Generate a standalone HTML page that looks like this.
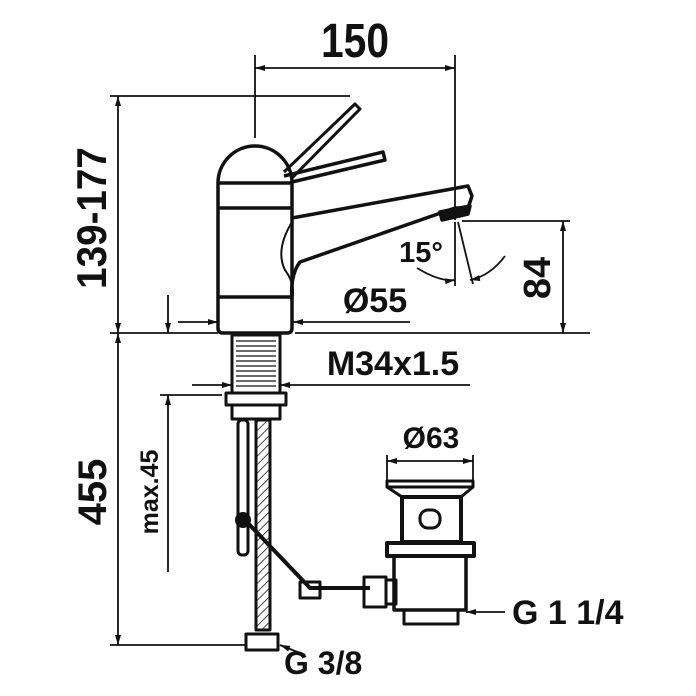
<!DOCTYPE html>
<html><head><meta charset="utf-8"><style>
html,body{margin:0;padding:0;background:#fff}
svg{display:block}
text{font-family:"Liberation Sans",sans-serif;font-weight:bold;fill:#111}
</style></head><body>
<svg width="696" height="696" viewBox="0 0 696 696" xmlns="http://www.w3.org/2000/svg">
<defs>
<marker id="a" viewBox="0 0 10 6" refX="10" refY="3" markerWidth="10" markerHeight="6" orient="auto-start-reverse" markerUnits="userSpaceOnUse"><path d="M0,0 L10,3 L0,6 z" fill="#111"/></marker>
<pattern id="h" width="6" height="6" patternUnits="userSpaceOnUse" patternTransform="rotate(45)"><line x1="0" y1="0" x2="0" y2="6" stroke="#111" stroke-width="1.5"/></pattern>
</defs>
<g stroke="#111" fill="none" stroke-width="1.8">
<line x1="255" y1="55" x2="255" y2="138"/>
<line x1="455" y1="55" x2="455" y2="220"/>
<line x1="255" y1="68" x2="455" y2="68" marker-start="url(#a)" marker-end="url(#a)"/>
<line x1="110" y1="96" x2="350" y2="96"/>
<line x1="110" y1="333" x2="218" y2="333"/>
<line x1="295" y1="333" x2="590" y2="333"/>
<line x1="118" y1="96" x2="118" y2="333" marker-start="url(#a)" marker-end="url(#a)"/>
<line x1="118" y1="333" x2="118" y2="645" marker-start="url(#a)" marker-end="url(#a)"/>
<line x1="110" y1="645" x2="245" y2="645"/>
<line x1="168" y1="295" x2="168" y2="333" marker-end="url(#a)"/>
<line x1="168" y1="395" x2="168" y2="572" marker-start="url(#a)"/>
<line x1="160" y1="395" x2="222" y2="395"/>
<line x1="178" y1="322" x2="218" y2="322" marker-end="url(#a)"/>
<line x1="410" y1="322" x2="293" y2="322" marker-end="url(#a)"/>
<line x1="192" y1="385" x2="232" y2="385" marker-end="url(#a)"/>
<line x1="470" y1="385" x2="280" y2="385" marker-end="url(#a)"/>
<line x1="462" y1="221" x2="570" y2="221"/>
<line x1="563" y1="221" x2="563" y2="333" marker-start="url(#a)" marker-end="url(#a)"/>
<line x1="455" y1="222" x2="455" y2="286"/>
<line x1="458" y1="222" x2="473" y2="284"/>
<path d="M417,268 Q440,282 455,280" marker-end="url(#a)"/>
<path d="M505,256 Q490,276 470,280" marker-end="url(#a)"/>
<line x1="387" y1="455" x2="387" y2="485"/>
<line x1="473" y1="455" x2="473" y2="485"/>
<line x1="387" y1="461" x2="473" y2="461" marker-start="url(#a)" marker-end="url(#a)"/>
<line x1="505" y1="612" x2="466" y2="612" marker-end="url(#a)"/>
<line x1="305" y1="655" x2="280" y2="645" marker-end="url(#a)"/>
</g>
<g stroke="#111" fill="none" stroke-width="3.5" stroke-linejoin="round">
<path d="M218,183 A37,37 0 0 1 292,183 L292,328 Q292,333 287,333 L223,333 Q218,333 218,328 Z"/>
<line x1="218" y1="183" x2="292" y2="183"/>
<line x1="218" y1="208" x2="292" y2="208"/>
<line x1="218" y1="297" x2="292" y2="297"/>
<path d="M284,172 L355,104 L360,109 L292,178" stroke-width="3"/>
<path d="M284,176 L383,152 L385,160 L292,182" stroke-width="3.5"/>
<path d="M292,218 L468,186 L472,196 L468,208 L455,208 L300,262 Q290,275 292,300"/>
<path d="M292,222 Q275,250 285,270 Q296,285 292,300" stroke-width="2"/>
<path d="M440,212 L470,206 L468,214 L442,220 Z" fill="#111"/>
<rect x="232" y="335" width="48" height="58" stroke-width="3"/>
<g stroke-width="1.2">
<line x1="236" y1="341" x2="276" y2="341"/><line x1="236" y1="346" x2="276" y2="346"/><line x1="236" y1="351" x2="276" y2="351"/><line x1="236" y1="356" x2="276" y2="356"/><line x1="236" y1="361" x2="276" y2="361"/><line x1="236" y1="366" x2="276" y2="366"/><line x1="236" y1="371" x2="276" y2="371"/><line x1="236" y1="376" x2="276" y2="376"/><line x1="236" y1="381" x2="276" y2="381"/><line x1="236" y1="386" x2="276" y2="386"/>
</g>
<rect x="226" y="393" width="60" height="12" stroke-width="3"/>
<rect x="232" y="405" width="48" height="14" stroke-width="3"/>
<rect x="238" y="420" width="10" height="135" rx="4" stroke-width="3"/>
<rect x="256" y="420" width="14" height="210" stroke-width="3" fill="url(#h)"/>
<rect x="246" y="634" width="32" height="16" stroke-width="3"/>
<path d="M245,520 L310,588 L370,588" stroke-width="4"/>
<rect x="300" y="582" width="20" height="16" stroke-width="3"/>
<rect x="364" y="577" width="22" height="30" stroke-width="3"/>
<rect x="386" y="580" width="10" height="24" stroke-width="3"/>
<rect x="387" y="481" width="86" height="6" stroke-width="3"/>
<path d="M387,487 L402,497 L461,497 L473,487" stroke-width="3"/>
<rect x="402" y="497" width="59" height="45" stroke-width="4"/>
<rect x="420" y="510" width="20" height="18" rx="8" stroke-width="3"/>
<rect x="387" y="543" width="87" height="13" stroke-width="4"/>
<rect x="394" y="556" width="72" height="54" stroke-width="3.5"/>
<rect x="404" y="610" width="54" height="14" stroke-width="3"/>
</g>
<circle cx="243" cy="520" r="8" fill="#111"/>
<text transform="translate(355,57) scale(0.85,1)" font-size="48" text-anchor="middle">150</text>
<text transform="translate(106,218) rotate(-90) scale(0.92,1)" font-size="42" text-anchor="middle">139-177</text>
<text transform="translate(106,492) rotate(-90)" font-size="40" text-anchor="middle">455</text>
<text transform="translate(158,492) rotate(-90)" font-size="25" text-anchor="middle">max.45</text>
<text transform="translate(550,278) rotate(-90)" font-size="38" text-anchor="middle">84</text>
<text x="375" y="312" font-size="34" text-anchor="middle">Ø55</text>
<text x="393" y="375" font-size="34" text-anchor="middle">M34x1.5</text>
<text x="421" y="262" font-size="29" text-anchor="middle">15°</text>
<text x="431" y="448" font-size="30" text-anchor="middle">Ø63</text>
<text x="512" y="624" font-size="34">G 1 1/4</text>
<text x="284" y="674" font-size="32">G 3/8</text>
</svg>
</body></html>
